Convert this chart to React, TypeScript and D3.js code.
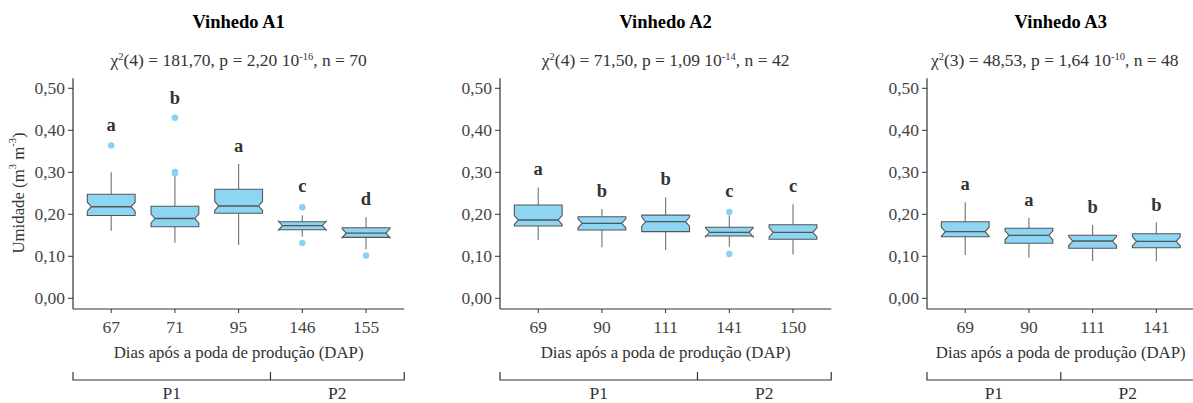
import React from "react";
import * as d3 from "d3";

// ---------- data ----------
const titles = ["Vinhedo A1", "Vinhedo A2", "Vinhedo A3"];
const chiDf = ["4", "4", "3"];
const chiVal = ["181,70", "71,50", "48,53"];
const pMant = ["2,20", "1,09", "1,64"];
const pExp = ["-16", "-14", "-10"];
const nObs = ["70", "42", "48"];

const a1Days = ["67", "71", "95", "146", "155"];
const a1Lo = [0.161, 0.132, 0.127, 0.147, 0.117];
const a1Q1 = [0.197, 0.1705, 0.2024, 0.1633, 0.145];
const a1Med = [0.218, 0.19, 0.2198, 0.173, 0.155];
const a1Q3 = [0.2476, 0.219, 0.2595, 0.1824, 0.168];
const a1Hi = [0.3, 0.295, 0.32, 0.198, 0.193];
const a1Out = [[0.364], [0.43, 0.301, 0.2976], [], [0.2167, 0.1317], [0.102]];
const a1Letters = ["a", "b", "a", "c", "d"];
const a1LetterY = [0.398, 0.463, 0.348, 0.253, 0.222];
const a1Split = 3; // P1 = first 3 days

const a2Days = ["69", "90", "111", "141", "150"];
const a2Lo = [0.139, 0.1214, 0.115, 0.123, 0.104];
const a2Q1 = [0.172, 0.1626, 0.1587, 0.1483, 0.1405];
const a2Med = [0.1864, 0.1786, 0.1825, 0.157, 0.157];
const a2Q3 = [0.222, 0.1943, 0.198, 0.169, 0.175];
const a2Hi = [0.264, 0.2126, 0.2405, 0.198, 0.224];
const a2Out = [[], [], [], [0.2055, 0.1055], []];
const a2Letters = ["a", "b", "b", "c", "c"];
const a2LetterY = [0.2936, 0.242, 0.27, 0.242, 0.254];
const a2Split = 3;

const a3Days = ["69", "90", "111", "141"];
const a3Lo = [0.103, 0.0967, 0.0888, 0.088];
const a3Q1 = [0.1467, 0.131, 0.119, 0.1205];
const a3Med = [0.1586, 0.15, 0.1364, 0.1357];
const a3Q3 = [0.1824, 0.1667, 0.15, 0.1538];
const a3Hi = [0.2286, 0.192, 0.1745, 0.181];
const a3Out = [[], [], [], []];
const a3Letters = ["a", "a", "b", "b"];
const a3LetterY = [0.2567, 0.2198, 0.2024, 0.208];
const a3Split = 2;

const yTicks = [0, 0.1, 0.2, 0.3, 0.4, 0.5];
const xTitle = "Dias após a poda de produção (DAP)";
const periodLabels = ["P1", "P2"];

// ---------- layout ----------
const W = 1193;
const H = 403;
const FONT = "'Liberation Serif', 'Times New Roman', serif";
const STEP = 63.7;
const panelLeft = [73, 500, 927];
const plotTop = 78.3;
const plotBottom = 309;
const fillCol = "#8DD5F3";
const ptCol = "#86D3F4";
const boxStroke = "#555555";
const whiskCol = "#707070";
const axisCol = "#333333";
const tickTextCol = "#444444";
const FS = 17.5;

const panelsData = [
  { days: a1Days, lo: a1Lo, q1: a1Q1, med: a1Med, q3: a1Q3, hi: a1Hi, out: a1Out, letters: a1Letters, ly: a1LetterY, split: a1Split },
  { days: a2Days, lo: a2Lo, q1: a2Q1, med: a2Med, q3: a2Q3, hi: a2Hi, out: a2Out, letters: a2Letters, ly: a2LetterY, split: a2Split },
  { days: a3Days, lo: a3Lo, q1: a3Q1, med: a3Med, q3: a3Q3, hi: a3Hi, out: a3Out, letters: a3Letters, ly: a3LetterY, split: a3Split },
];

const fmt = (v: number) => d3.format(".2f")(v).replace(".", ",");

function Panel({ idx }: { idx: number }) {
  const p = panelsData[idx];
  const x0 = panelLeft[idx];
  const width = (p.days.length - 1 + 1.2) * STEP;
  const x1 = x0 + width;
  const x = d3.scalePoint<string>().domain(p.days).range([x0, x1]).padding(0.6);
  const y = d3.scaleLinear().domain([0, 0.5]).range([298.3, 88.3]);
  const bw = x.step() * 0.75;
  const notchH = 4.5;
  const indent = 4;
  const cx = (x0 + x1) / 2;
  const splitX = ((x(p.days[p.split - 1]) as number) + (x(p.days[p.split]) as number)) / 2;

  return (
    <g>
      <text x={cx} y={28} textAnchor="middle" fontFamily={FONT} fontWeight="bold" fontSize={18.5} fill="#000">
        {titles[idx]}
      </text>
      <text x={idx === 2 ? cx - 6 : cx} y={66} textAnchor="middle" fontFamily={FONT} fontSize={FS} fill="#333">
        χ<tspan dy={-6} fontSize={10.5}>2</tspan>
        <tspan dy={6}>({chiDf[idx]}) = {chiVal[idx]}, p = {pMant[idx]} 10</tspan>
        <tspan dy={-6} fontSize={10.5}>{pExp[idx]}</tspan>
        <tspan dy={6}>, n = {nObs[idx]}</tspan>
      </text>

      {/* y axis */}
      <line x1={x0} x2={x0} y1={plotTop} y2={plotBottom} stroke={axisCol} strokeWidth={1.2} />
      {yTicks.map((t) => (
        <g key={t}>
          <line x1={x0 - 5} x2={x0} y1={y(t)} y2={y(t)} stroke={axisCol} strokeWidth={1} />
          <text x={x0 - 8} y={y(t) + 5.5} textAnchor="end" fontFamily={FONT} fontSize={FS} fill={tickTextCol}>
            {fmt(t)}
          </text>
        </g>
      ))}
      {/* x axis */}
      <line x1={x0} x2={x1} y1={plotBottom} y2={plotBottom} stroke={axisCol} strokeWidth={1.2} />
      {p.days.map((d) => (
        <g key={d}>
          <line x1={x(d)} x2={x(d)} y1={plotBottom} y2={plotBottom + 4} stroke={axisCol} strokeWidth={1} />
          <text x={x(d)} y={333} textAnchor="middle" fontFamily={FONT} fontSize={FS} fill={tickTextCol}>
            {d}
          </text>
        </g>
      ))}
      <text x={cx} y={358} textAnchor="middle" fontFamily={FONT} fontSize={16.8} fill="#333">
        {xTitle}
      </text>

      {/* boxes */}
      {p.days.map((d, i) => {
        const c = x(d) as number;
        const l = c - bw / 2;
        const r = c + bw / 2;
        const yq1 = y(p.q1[i]);
        const yq3 = y(p.q3[i]);
        const ym = y(p.med[i]);
        const nu = ym - notchH;
        const nl = ym + notchH;
        const pts: [number, number][] = [
          [l, yq3], [l, nu], [l + indent, ym], [l, nl], [l, yq1],
          [r, yq1], [r, nl], [r - indent, ym], [r, nu], [r, yq3],
        ];
        const path = d3.line()(pts) + "Z";
        return (
          <g key={d}>
            <line x1={c} x2={c} y1={y(p.hi[i])} y2={yq3} stroke={whiskCol} strokeWidth={1.1} />
            <line x1={c} x2={c} y1={yq1} y2={y(p.lo[i])} stroke={whiskCol} strokeWidth={1.1} />
            <path d={path} fill={fillCol} stroke={boxStroke} strokeWidth={1.1} />
            <line x1={l + indent} x2={r - indent} y1={ym} y2={ym} stroke={boxStroke} strokeWidth={1.3} />
            {p.out[i].map((o, k) => (
              <circle key={k} cx={c} cy={y(o)} r={3.2} fill={ptCol} />
            ))}
            <text x={c} y={y(p.ly[i])} textAnchor="middle" fontFamily={FONT} fontWeight="bold" fontSize={18.5} fill="#333">
              {p.letters[i]}
            </text>
          </g>
        );
      })}

      {/* period bracket */}
      <path
        d={`M${x0},372V380H${x1}V372M${splitX},372V380`}
        fill="none"
        stroke={axisCol}
        strokeWidth={1.2}
      />
      <text x={(x0 + splitX) / 2} y={399} textAnchor="middle" fontFamily={FONT} fontSize={FS} fill="#333">
        {periodLabels[0]}
      </text>
      <text x={(splitX + x1) / 2} y={399} textAnchor="middle" fontFamily={FONT} fontSize={FS} fill="#333">
        {periodLabels[1]}
      </text>
    </g>
  );
}

export default function App() {
  return (
    <div style={{ position: "absolute", left: 0, top: 0 }}>
      <svg width={W} height={H} style={{ display: "block", background: "#fff" }}>
        <rect x={0} y={0} width={W} height={H} fill="#fff" />
        <text
          transform="translate(18,193) rotate(-90)"
          textAnchor="middle"
          dominantBaseline="central"
          fontFamily={FONT}
          fontSize={16.8}
          fill="#333"
        >
          Umidade (m<tspan dy={-6} fontSize={10.5}>3</tspan>
          <tspan dy={6}> m</tspan>
          <tspan dy={-6} fontSize={10.5}>-3</tspan>
          <tspan dy={6}>)</tspan>
        </text>
        {[0, 1, 2].map((i) => (
          <Panel key={i} idx={i} />
        ))}
      </svg>
    </div>
  );
}
